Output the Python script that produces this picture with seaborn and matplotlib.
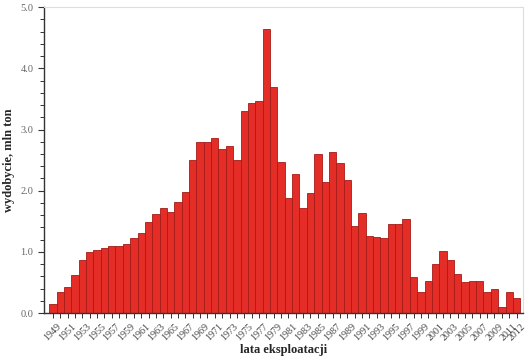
import numpy as np
import pandas as pd
import matplotlib
matplotlib.use("Agg")
import matplotlib.pyplot as plt
from matplotlib.ticker import MultipleLocator
import seaborn as sns

# ── Data ───────────────────────────────────────────────────────
years = list(range(1949, 2013))
output = [
    0.15, 0.34, 0.42, 0.63, 0.87, 1.00, 1.03, 1.06, 1.09, 1.10,   # 1949-1958
    1.13, 1.23, 1.31, 1.49, 1.62, 1.71, 1.65, 1.82, 1.98, 2.50,   # 1959-1968
    2.80, 2.79, 2.86, 2.68, 2.73, 2.51, 3.31, 3.44, 3.46, 4.65,   # 1969-1978
    3.70, 2.47, 1.88, 2.27, 1.72, 1.97, 2.60, 2.15, 2.64, 2.45,   # 1979-1988
    2.18, 1.42, 1.64, 1.26, 1.25, 1.22, 1.45, 1.45, 1.54, 0.59,   # 1989-1998
    0.34, 0.52, 0.81, 1.02, 0.86, 0.64, 0.50, 0.53, 0.53, 0.34,   # 1999-2008
    0.39, 0.10, 0.35, 0.24,                                       # 2009-2012
]
tick_labels = [str(y) if (y - 1949) % 2 == 0 or y == 2012 else "" for y in years]

df = pd.DataFrame({"rok": [str(y) for y in years], "wydobycie": output})

# ── Style ──────────────────────────────────────────────────────
sns.set_theme(style="white")
plt.rcParams["font.family"] = ["Liberation Serif", "DejaVu Serif"]

BAR_C = "#e52d27"
EDGE_C = "#a51c18"

fig = plt.figure(figsize=(5.29, 3.57), dpi=100)
ax = fig.add_axes([0.083, 0.123, 0.906, 0.857])

sns.barplot(data=df, x="rok", y="wydobycie", color=BAR_C, saturation=1,
            width=1.0, edgecolor=EDGE_C, linewidth=0.6, ax=ax)

ax.set_ylim(0, 5.0)
ax.set_xlim(-1.22, 63.9)
ax.yaxis.set_major_locator(MultipleLocator(1.0))
ax.yaxis.set_minor_locator(MultipleLocator(0.2))
ax.yaxis.set_major_formatter(matplotlib.ticker.FormatStrFormatter("%.1f"))

ax.set_xticks(range(len(years)))
ax.set_xticklabels(tick_labels, rotation=45, ha="center",
                   fontsize=7.2, color="#444")
ax.tick_params(axis="y", which="major", length=4, width=0.8, color="#333",
               labelsize=7.5, labelcolor="#666", left=True)
ax.tick_params(axis="y", which="minor", length=3, width=0.7, color="#333", left=True)
ax.tick_params(axis="x", length=3.5, width=0.7, color="#333", bottom=True, pad=3)

for side in ["top", "right"]:
    ax.spines[side].set_color("#dddddd")
    ax.spines[side].set_linewidth(0.8)
for side in ["left", "bottom"]:
    ax.spines[side].set_color("#333333")
    ax.spines[side].set_linewidth(1.0)

ax.set_xlabel("lata eksploatacji", fontsize=9, fontweight="bold", labelpad=1)
ax.set_ylabel("wydobycie, mln ton", fontsize=9, fontweight="bold", labelpad=4)

fig.savefig("out.png", dpi=100, facecolor="white")
